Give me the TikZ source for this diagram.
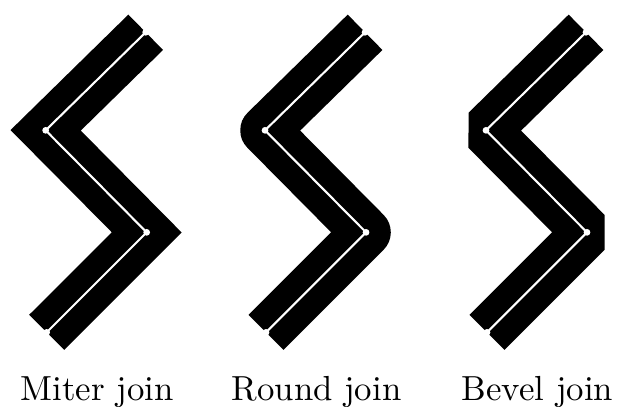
\documentclass[tikz,border=0pt]{standalone}
\begin{document}
\begin{tikzpicture}[
    every node/.style={font=\normalsize},
    stroke/.style={line width=0.5cm},
    centre/.style={white, line width=0.6pt},
    joint/.style={fill=white}
]
\useasboundingbox (0,0) rectangle (6.25,-4.10);
\foreach \x/\j/\lab in {0.461/miter/Miter, 2.676/round/Round, 4.907/bevel/Bevel} {
  \begin{scope}[xshift=\x cm, yshift=-1.316cm]
    \coordinate (\j-a) at (1.01,0.99);
    \coordinate (\j-b) at (0,0);
    \coordinate (\j-c) at (1.02,-1.03);
    \coordinate (\j-d) at (0.01,-2.04);
    \draw[stroke, line join=\j] (\j-a) -- (\j-b) -- (\j-c) -- (\j-d);
    \draw[centre] (\j-a) -- (\j-b) -- (\j-c) -- (\j-d);
    \foreach \p in {a,b,c,d}
      \fill[joint] (\j-\p) circle (0.034cm);
    \node[anchor=base] (\j-label) at (0.52,-2.724) {\lab{} join};
  \end{scope}
}
\end{tikzpicture}
\end{document}
